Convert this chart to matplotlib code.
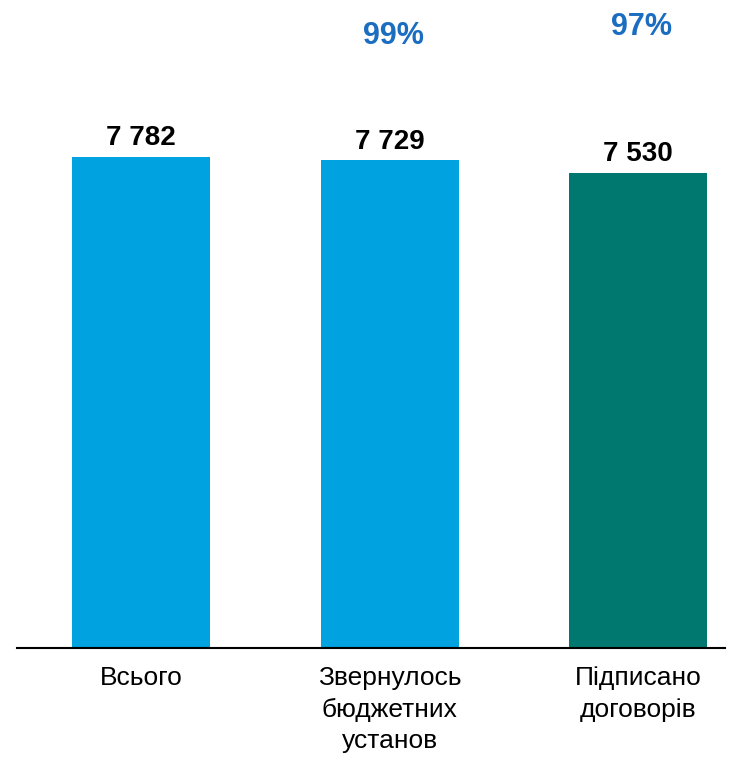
import matplotlib.pyplot as plt

# Chart data
categories = ["Всього", "Звернулось\nбюджетних\nустанов", "Підписано\nдоговорів"]
values = [7782, 7729, 7530]
value_labels = ["7 782", "7 729", "7 530"]
bar_colors = ["#00A3E0", "#00A3E0", "#00786F"]
share_labels = ["", "99%", "97%"]

plt.rcParams['font.family'] = ['Liberation Sans', 'DejaVu Sans']

fig = plt.figure(figsize=(7.38, 7.61), dpi=100)
ax = fig.add_axes([17 / 738, 113 / 761, 708 / 738, 648 / 761])

x = list(range(len(categories)))
ax.bar(x, values, width=0.555, color=bar_colors)

# Value labels above bars
for xi, v, lbl in zip(x, values, value_labels):
    ax.annotate(lbl, (xi, v), xytext=(0, 4), textcoords="offset points",
                ha="center", va="bottom", fontsize=20, fontweight="bold",
                color="black")

# Share labels at the top
share_offsets = [0, 9700, 9840]
for xi, lbl, yv in zip(x, share_labels, share_offsets):
    if lbl:
        ax.text(xi + 0.015, yv, lbl, ha="center", va="center", fontsize=22,
                fontweight="bold", color="#1A6DC0")

ax.set_xlim(-0.5, 2.35)
ax.set_ylim(0, 10270)

for side in ["top", "right", "left"]:
    ax.spines[side].set_visible(False)
ax.spines["bottom"].set_linewidth(1.5)
ax.spines["bottom"].set_color("black")
ax.set_yticks([])
ax.set_xticks(x)
ax.set_xticklabels(categories, fontsize=19, linespacing=1.4)
ax.tick_params(axis="x", length=0, pad=13)

fig.savefig("out.png", dpi=100)
